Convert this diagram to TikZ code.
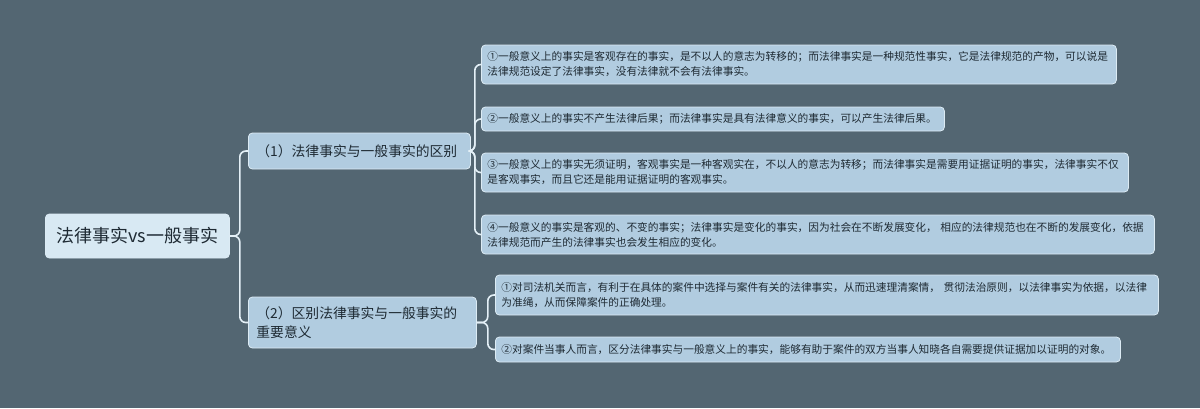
\documentclass[tikz,border=0pt]{standalone}
\usepackage{fontspec}
\newfontfamily\cjk{Noto Sans CJK SC}
\usetikzlibrary{calc}

\definecolor{bgc}{HTML}{536672}
\definecolor{rootc}{HTML}{D8E9F3}
\definecolor{leafc}{HTML}{B1CCE0}
\definecolor{edgec}{HTML}{DCEBF4}
\definecolor{linec}{HTML}{E4F0F7}
\definecolor{txtc}{HTML}{1E2A33}

\tikzset{
	box/.style={rounded corners=4pt,fill=leafc,draw=edgec,line width=0.8pt,text=txtc,inner ysep=0pt,anchor=west},
	rootbox/.style={box,fill=rootc,font=\cjk\fontsize{18}{22}\selectfont,minimum width=184pt,minimum height=44pt,inner xsep=0pt},
	branchbox/.style={box,font=\cjk\fontsize{13.8}{19}\selectfont,inner xsep=8pt,align=left},
	leafbox/.style={box,font=\cjk\fontsize{10.7}{15}\selectfont,inner xsep=6pt,align=left},
	conn/.style={linec,line width=1.6pt,rounded corners=6pt}
}

\begin{document}
\begin{tikzpicture}[x=1pt,y=-1pt]
	%background
	\fill[bgc] (0,0) rectangle (1200,408);
	\useasboundingbox (0,0) rectangle (1200,408);
	
	%root and branches
	\node[rootbox] (root) at (45,236) {法律事实vs一般事实};
	\node[branchbox,minimum width=222pt,minimum height=36pt,text width=206pt] (diff) at (248,151) {（1）法律事实与一般事实的区别};
	\node[branchbox,minimum width=228pt,minimum height=51pt,text width=212pt] (mean) at (248,322.5) {（2）区别法律事实与一般事实的\\重要意义};
	
	%leaves of (1)
	\node[leafbox,text width=623pt,minimum height=39pt] (d1) at (481,64.5) {①一般意义上的事实是客观存在的事实，是不以人的意志为转移的；而法律事实是一种规范性事实，它是法律规范的产物，可以说是\\法律规范设定了法律事实，没有法律就不会有法律事实。};
	\node[leafbox,text width=451pt,minimum height=24pt] (d2) at (481,119) {②一般意义上的事实不产生法律后果；而法律事实是具有法律意义的事实，可以产生法律后果。};
	\node[leafbox,text width=635pt,minimum height=39pt] (d3) at (481,172.5) {③一般意义上的事实无须证明，客观事实是一种客观实在，不以人的意志为转移；而法律事实是需要用证据证明的事实，法律事实不仅\\是客观事实，而且它还是能用证据证明的客观事实。};
	\node[leafbox,text width=661pt,minimum height=39pt] (d4) at (481,234.5) {④一般意义的事实是客观的、不变的事实；法律事实是变化的事实，因为社会在不断发展变化， 相应的法律规范也在不断的发展变化，依据\\法律规范而产生的法律事实也会发生相应的变化。};
	
	%leaves of (2)
	\node[leafbox,text width=651pt,minimum height=40pt] (m1) at (495,295) {①对司法机关而言，有利于在具体的案件中选择与案件有关的法律事实，从而迅速理清案情， 贯彻法治原则，以法律事实为依据，以法律\\为准绳，从而保障案件的正确处理。};
	\node[leafbox,text width=613pt,minimum height=25pt] (m2) at (495,349.5) {②对案件当事人而言，区分法律事实与一般意义上的事实，能够有助于案件的双方当事人知晓各自需要提供证据加以证明的对象。};
	
	%connectors
	\foreach \kid in {diff,mean}
		\draw[conn] (root.east) -- ($(root.east)+(10,0)$) |- (\kid.west);
	\foreach \kid in {d1,d2,d3,d4}
		\draw[conn] (diff.east) -- ($(diff.east)+(4,0)$) |- (\kid.west);
	\foreach \kid in {m1,m2}
		\draw[conn] (mean.east) -- ($(mean.east)+(11,0)$) |- (\kid.west);
\end{tikzpicture}
\end{document}
